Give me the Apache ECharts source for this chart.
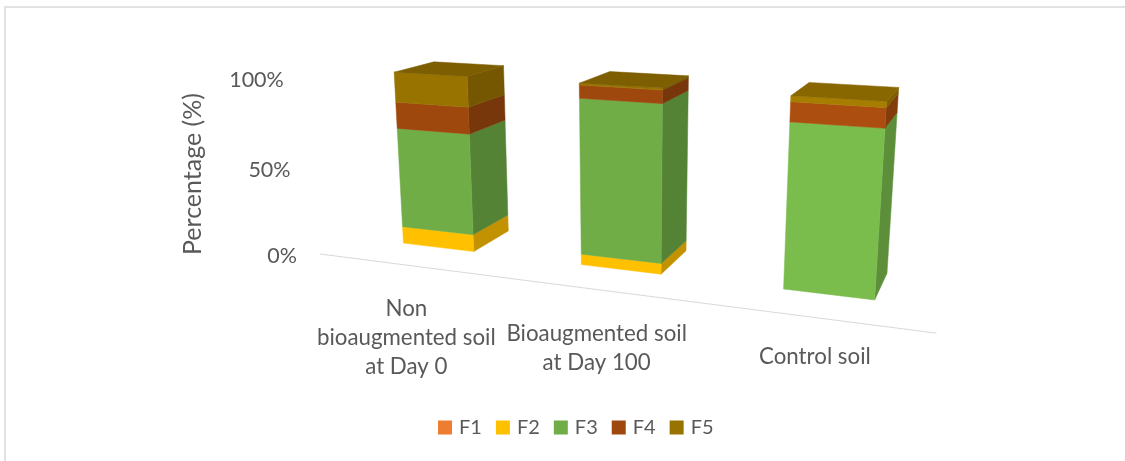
<!DOCTYPE html>
<html>
<head>
<meta charset="utf-8">
<style>html,body{margin:0;padding:0;background:#fff}#chart{width:1125px;height:461px}</style>
<script src="https://cdn.jsdelivr.net/npm/echarts@6/dist/echarts.min.js"></script>
</head>
<body>
<div id="chart"></div>
<script>
// Soil fractions, stacked to 100 % per sample
const categories = ['Non\nbioaugmented soil\nat Day 0', 'Bioaugmented soil\nat Day 100', 'Control soil'];
const F1 = [0, 0, 0];
const F2 = [10, 6, 0];
const F3 = [58, 86, 87];
const F4 = [15, 7, 10];
const F5 = [17, 1, 3];
const valueTicks = [0, 50, 100];

const fractionNames = ['F1', 'F2', 'F3', 'F4', 'F5'];
const fractionValues = [F1, F2, F3, F4, F5];
const fractionColors = ['#ED7D31', '#FFC000', '#70AD47', '#9E480E', '#997300'];

const FONT = 'Lato, "Open Sans", sans-serif';
const TEXT = '#595959';
const RULE = '#D9D9D9';

// Perspective camera of the 3-D column plot: vanishing points of the three
// world directions (along the categories, up the value axis, into the depth).
const camera = {
  origin: [320, 254],
  vpCategory: [-2383, -93], perCategory: -0.0619,
  vpValue: [629, 4383], perValue: -0.000409,
  vpDepth: [1060, -100]
};
const barHalfWidth = 0.205;   // in category bands
const barFront = 0.0496;      // depth of the column's front face
const barBack = 0.1126;       // depth of the column's back face
const columnLight = [1, 1, 1.09]; // columns nearer the light source read brighter

function project(u, v, d) {
  const a = camera.perCategory * u, b = camera.perValue * v;
  const X = camera.origin[0] + a * camera.vpCategory[0] + b * camera.vpValue[0] + d * camera.vpDepth[0];
  const Y = camera.origin[1] + a * camera.vpCategory[1] + b * camera.vpValue[1] + d * camera.vpDepth[1];
  const W = 1 + a + b + d;
  return [X / W, Y / W];
}

// Turn an axis position into (category units, percent) through the cartesian scales.
function toWorld(api, params, cat, val) {
  const cs = params.coordSys;
  const p = api.coord([cat, val]);
  return [(p[0] - cs.x) / cs.width * categories.length, (cs.y + cs.height - p[1]) / cs.height * 100];
}

function shade(hex, k) {
  const n = parseInt(hex.slice(1), 16);
  const c = [n >> 16 & 255, n >> 8 & 255, n & 255].map(x => Math.round(Math.min(255, x * k)));
  return 'rgb(' + c.join(',') + ')';
}

function poly(points, fill) {
  return { type: 'polygon', shape: { points }, style: { fill, stroke: fill, lineWidth: 0.5 } };
}

function renderSegment(color) {
  return function (params, api) {
    const cat = api.value(0), start = api.value(1), end = api.value(2);
    if (end <= start) return { type: 'group', children: [] };
    const lo = toWorld(api, params, cat, start);
    const hi = toWorld(api, params, cat, end);
    const l = lo[0] - barHalfWidth, r = lo[0] + barHalfWidth;
    const v0 = lo[1], v1 = hi[1];
    const light = columnLight[cat];
    const children = [
      poly([project(r, v0, barFront), project(r, v0, barBack), project(r, v1, barBack), project(r, v1, barFront)], shade(color, 0.76 * light)),
      poly([project(l, v0, barFront), project(r, v0, barFront), project(r, v1, barFront), project(l, v1, barFront)], shade(color, light))
    ];
    if (end >= 100) {
      children.push(poly([project(l, v1, barFront), project(r, v1, barFront), project(r, v1, barBack), project(l, v1, barBack)], shade(color, 0.82 * light)));
    }
    return { type: 'group', children };
  };
}

// Running totals for the stacked segments
const running = categories.map(() => 0);
const segmentSeries = fractionNames.map((name, k) => {
  const data = categories.map((_, i) => {
    const start = running[i];
    running[i] += fractionValues[k][i];
    return [i, start, running[i]];
  });
  return {
    name, type: 'custom', coordinateSystem: 'cartesian2d',
    itemStyle: { color: fractionColors[k] },
    encode: { x: 0, y: [1, 2] },
    renderItem: renderSegment(fractionColors[k]),
    data
  };
});

const labelDrop = [29, 30, 25];   // space between the baseline and each category label
const tickGap = 23;

const axisSeries = {
  name: 'axes', type: 'custom', coordinateSystem: 'cartesian2d', silent: true,
  encode: { x: 0, y: 1 },
  data: [[0, 0]],
  renderItem(params, api) {
    const children = [];
    const start = project(0, 0, 0), stop = project(categories.length, 0, 0);
    children.push({ type: 'line', shape: { x1: start[0], y1: start[1], x2: stop[0], y2: stop[1] }, style: { stroke: RULE, lineWidth: 1 } });
    valueTicks.forEach(t => {
      const w = toWorld(api, params, 0, t);
      const p = project(0, w[1], 0);
      children.push({ type: 'text', style: { x: p[0] - tickGap, y: p[1] + 2.5, text: t + '%', fill: TEXT, font: '21.5px ' + FONT, align: 'right', verticalAlign: 'middle' } });
    });
    categories.forEach((c, i) => {
      const w = toWorld(api, params, i, 0);
      const p = project(w[0], 0, 0);
      children.push({ type: 'text', style: { x: p[0], y: p[1] + labelDrop[i], text: c, fill: TEXT, font: '22.3px ' + FONT, lineHeight: 29, align: 'center', verticalAlign: 'top' } });
    });
    return { type: 'group', children };
  }
};

const chart = echarts.init(document.getElementById('chart'), null, { renderer: 'canvas' });
chart.setOption({
  animation: false,
  backgroundColor: '#fff',
  grid: { left: 320, right: 189, top: 78, bottom: 207 },
  xAxis: { type: 'category', data: categories, show: false },
  yAxis: { type: 'value', min: 0, max: 100, interval: 50, show: false },
  legend: {
    data: fractionNames, left: 438, top: 417.5, padding: 0, icon: 'rect', itemWidth: 14, itemHeight: 14, itemGap: 14,
    selectedMode: false,
    textStyle: { color: TEXT, fontFamily: FONT, fontSize: 20, padding: [0, 0, 0, 2] }
  },
  graphic: [
    { type: 'text', rotation: Math.PI / 2, x: 180, y: 255, style: { text: 'Percentage (%)', fill: TEXT, font: '25px ' + FONT, align: 'left', verticalAlign: 'top' } },
    { type: 'rect', shape: { x: 5, y: 7, width: 1200, height: 1000 }, style: { fill: 'none', stroke: '#E2E2E2', lineWidth: 2 } }
  ],
  series: [axisSeries].concat(segmentSeries)
});
</script>
</body>
</html>
